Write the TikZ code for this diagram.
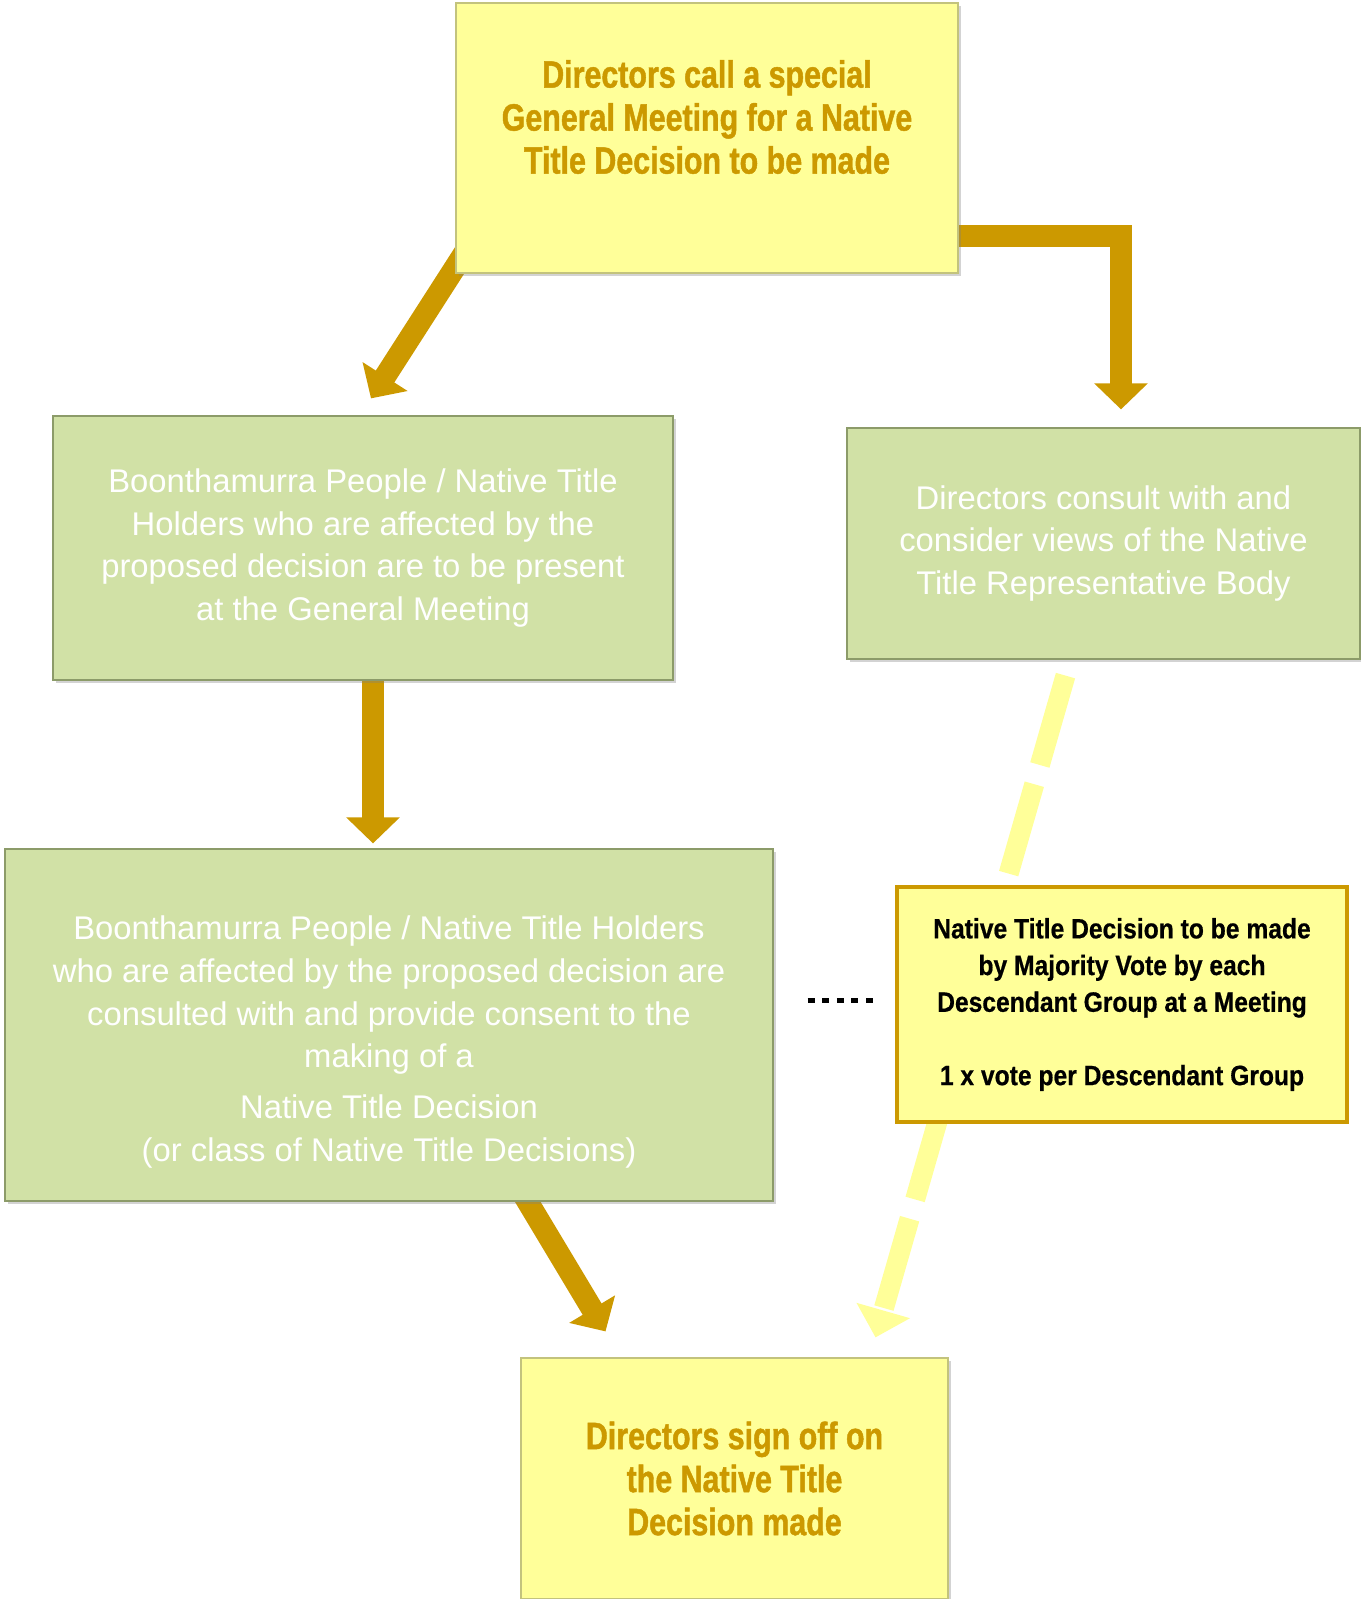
\documentclass[tikz,border=0pt]{standalone}
\usepackage{fontspec}
\setmainfont{Liberation Sans}
\newfontfamily\goldfont[FakeStretch=0.8,FakeBold=1.2]{Liberation Sans}
\newfontfamily\votefont[FakeStretch=0.88,FakeBold=0.6]{Liberation Sans}
\usetikzlibrary{arrows.meta,calc,shadows,backgrounds}
\definecolor{gold}{RGB}{204,153,0}
\definecolor{pale}{RGB}{255,255,153}
\definecolor{sage}{RGB}{209,225,166}
\definecolor{sageedge}{RGB}{140,155,105}
\definecolor{paleedge}{RGB}{195,195,125}
\tikzset{ybox/.style={rectangle,fill=pale,draw=paleedge,line width=.6pt,inner sep=0pt,drop shadow={shadow xshift=1.5pt,shadow yshift=-1.5pt,opacity=.35}},
ytext/.style={align=center,text=gold,font=\goldfont\bfseries\fontsize{19}{21.5}\selectfont},
gbox/.style={rectangle,fill=sage,draw=sageedge,line width=.6pt,inner sep=0pt,drop shadow={shadow xshift=1.5pt,shadow yshift=-1.5pt,opacity=.35}},
gtext/.style={align=center,text=white,font=\fontsize{16.4}{21.4}\selectfont},
vbox/.style={rectangle,fill=pale,draw=gold,line width=2pt,inner sep=0pt,align=center,font=\votefont\bfseries\fontsize{14}{18.35}\selectfont},
arr/.style={draw=gold,line width=11pt,-{Triangle[length=13pt,width=26pt]}},
palearr/.style={draw=pale,line width=10pt,dash pattern=on 46.5pt off 10pt,-{Triangle[length=14pt,width=27pt]}},
dots/.style={line width=2.5pt,dash pattern=on 3.5pt off 3.8pt}}

\begin{document}
\begin{tikzpicture}[x=0.5pt,y=-0.5pt]
\useasboundingbox (0,0) rectangle (1360,1599);
\node[ybox,minimum width=251pt,minimum height=135pt] (top) at (707,138) {};
\node[ytext] (toptext) at (707,117) {Directors call a special\\General Meeting for a Native\\Title Decision to be made};
\node[gbox,gtext,minimum width=310pt,minimum height=132pt] (left) at (363,548) {Boonthamurra People / Native Title\\Holders who are affected by the\\proposed decision are to be present\\at the General Meeting};
\node[gbox,gtext,minimum width=256.5pt,minimum height=115.5pt] (rbox) at (1103.5,543.5) {Directors consult with and\\consider views of the Native\\Title Representative Body};
\node[gbox,minimum width=384pt,minimum height=176pt] (big) at (389,1025) {};
\node[gtext] (bigtext) at (389,1042) {Boonthamurra People / Native Title Holders\\who are affected by the proposed decision are\\consulted with and provide consent to the\\making of a\\[4pt]Native Title Decision\\(or class of Native Title Decisions)};
\node[vbox,minimum width=225pt,minimum height=117.5pt] (vote) at (1122,1004.5) {Native Title Decision to be made\\by Majority Vote by each\\Descendant Group at a Meeting\\[18.35pt]1 x vote per Descendant Group};
\node[ybox,ytext,minimum width=213.5pt,minimum height=120.5pt] (bottom) at (734.5,1478.5) {Directors sign off on\\the Native Title\\Decision made};
\begin{scope}[on background layer]
\draw[arr] ($(top.south west)+(15,-30)$) -- ($(left.north)+(8,-17)$);
\draw[arr] ([yshift=-49pt]top.east) -| ([xshift=8.75pt,yshift=9pt]rbox.north);
\draw[arr] ([xshift=5pt]left.south) -- ([xshift=5pt,yshift=2.5pt]left.south |- big.north);
\draw[arr] ($(big.south)+(132,-11)$) -- ($(bottom.north)+(-129,-26)$);
\draw[palearr] ($(rbox.south)+(-38,16)$) -- ($(bottom.north)+(141,-20)$);
\end{scope}
\draw[dots,shorten <=17pt,shorten >=9pt] ([yshift=2pt]big.east |- vote.west) -- ([yshift=2pt]vote.west);
\end{tikzpicture}
\end{document}
